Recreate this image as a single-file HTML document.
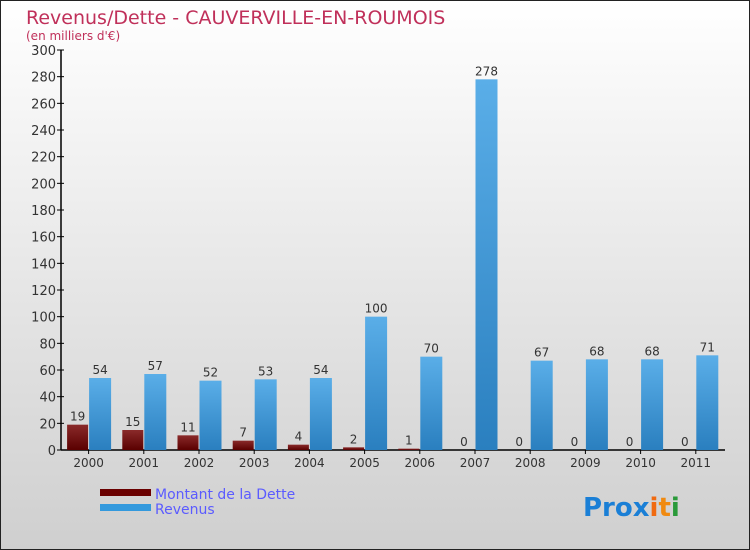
<!DOCTYPE html>
<html><head><meta charset="utf-8"><style>
html,body{margin:0;padding:0}
body{width:750px;height:550px;overflow:hidden;font-family:"DejaVu Sans","Liberation Sans",sans-serif}
#wrap{position:absolute;left:0;top:0;width:748px;height:548px;border:1px solid #222;background:linear-gradient(#ffffff,#cfcfcf)}
</style></head><body>
<div id="wrap"></div>
<svg id="chart" width="750" height="550" style="position:absolute;left:0;top:0">
<defs>
<linearGradient id="gd" x1="0" y1="0" x2="0" y2="1"><stop offset="0" stop-color="#8a2a2a"/><stop offset="1" stop-color="#5a0000"/></linearGradient>
<linearGradient id="gr" x1="0" y1="0" x2="0" y2="1"><stop offset="0" stop-color="#5aaee8"/><stop offset="1" stop-color="#2a7fbf"/></linearGradient>
</defs>
<text x="26" y="24" font-size="19" fill="#c0305a">Revenus/Dette - CAUVERVILLE-EN-ROUMOIS</text>
<text x="26" y="40" font-size="12" fill="#c0305a">(en milliers d'€)</text>
<g id="axes"></g>
<g id="bars"></g>
<g>
<rect x="100" y="489" width="51" height="7" fill="#6a0000"/>
<text x="155" y="499" font-size="14" fill="#5b5bff">Montant de la Dette</text>
<rect x="100" y="504" width="51" height="7" fill="#3399dd"/>
<text x="155" y="514" font-size="14" fill="#5b5bff">Revenus</text>
</g>
<g font-size="26" font-weight="bold">
<text x="583" y="516"><tspan fill="#1a7fd6">Pro</tspan><tspan fill="#1a7fd6">x</tspan><tspan fill="#f06a10">i</tspan><tspan fill="#f08a10">t</tspan><tspan fill="#2a9a3a">i</tspan></text>
</g>
</svg>
<script>
const years=["2000","2001","2002","2003","2004","2005","2006","2007","2008","2009","2010","2011"];
const dette=[19,15,11,7,4,2,1,0,0,0,0,0];
const revenus=[54,57,52,53,54,100,70,278,67,68,68,71];
const yTicks=[0,20,40,60,80,100,120,140,160,180,200,220,240,260,280,300];
const NS="http://www.w3.org/2000/svg";
const x0=61,step=55.2,yBase=450,yTop=50,yMax=300;
const y=v=>yBase-(v/yMax)*(yBase-yTop);
const xc=i=>x0+27.6+step*i;
function mk(tag,attrs,parent){const e=document.createElementNS(NS,tag);for(const k in attrs)e.setAttribute(k,attrs[k]);parent.appendChild(e);return e;}
const axes=document.getElementById('axes'),bars=document.getElementById('bars');
let a=mk('line',{x1:x0,y1:yTop,x2:x0,y2:yBase,stroke:'#000','stroke-width':1.5},axes);


a=mk('line',{x1:x0,y1:yBase,x2:725,y2:yBase,stroke:'#000','stroke-width':1.5},axes);


yTicks.forEach(t=>{
 const l=mk('line',{x1:x0-4,y1:y(t),x2:x0+3,y2:y(t),stroke:'#000'},axes);
 
 
 const tx=mk('text',{x:x0-5,y:y(t)+5,'font-size':13,'text-anchor':'end',fill:'#333'},axes);
 tx.textContent=t;
 
 
});
years.forEach((yr,i)=>{
 const c=xc(i);
 const tk=mk('line',{x1:c,y1:yBase,x2:c,y2:yBase+4,stroke:'#000'},axes);
 
 
 const lb=mk('text',{x:c,y:yBase+17,'font-size':12,'text-anchor':'middle',fill:'#333'},axes);
 lb.textContent=yr;
 
 
 const bd=mk('rect',{x:c-21.5,y:y(dette[i]),width:21,height:yBase-y(dette[i]),fill:'url(#gd)'},bars);
 
 
 const vd=mk('text',{x:c-11,y:y(dette[i])-4,'font-size':12,'text-anchor':'middle',fill:'#333'},bars);
 vd.textContent=dette[i];
 
 
 const br=mk('rect',{x:c+0.5,y:y(revenus[i]),width:22,height:yBase-y(revenus[i]),fill:'url(#gr)'},bars);
 
 
 const vr=mk('text',{x:c+11.5,y:y(revenus[i])-4,'font-size':12,'text-anchor':'middle',fill:'#333'},bars);
 vr.textContent=revenus[i];
 
 
});
</script>
</body></html>
